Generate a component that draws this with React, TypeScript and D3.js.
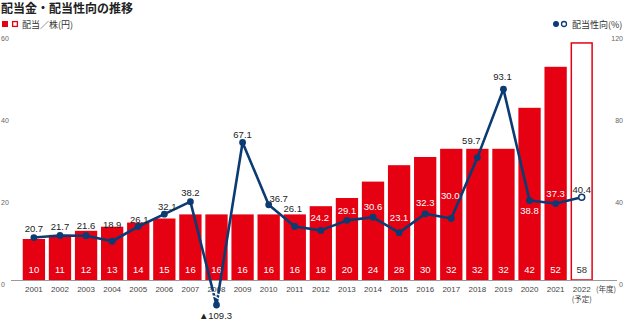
import React from "react";
import * as d3 from "d3";

const years = ["2001","2002","2003","2004","2005","2006","2007","2008","2009","2010","2011","2012","2013","2014","2015","2016","2017","2018","2019","2020","2021","2022"];
const dividends = [10,11,12,13,14,15,16,16,16,16,16,18,20,24,28,30,32,32,32,42,52,58];
const payout = [20.7,21.7,21.6,18.9,26.1,32.1,38.2,-109.3,67.1,36.7,26.1,24.2,29.1,30.6,23.1,32.3,30.0,59.7,93.1,38.8,37.3,40.4];
const leftTicks = [0,20,40,60];
const rightTicks = [0,40,80,120];
const forecastYear = "2022";
const brokenYear = "2008";

// label nudges (dx, dy of label centre relative to point)
const labelNudge: Record<string,[number,number]> = {
  "2003":[0,-10],"2004":[0,-17],"2005":[1,-7],"2006":[3,-8],"2009":[0,-8],"2010":[10,-6],
  "2011":[-2,-18],"2012":[-1,-13],"2013":[0,-10],"2014":[0,-11],"2015":[0,-15],"2016":[0,-11],
  "2017":[-1,-23],"2018":[-6,-17],"2019":[-1,-13],"2020":[0,10],"2021":[0,-10],"2022":[0,-8]
};

const RED = "#e50012";
const NAVY = "#0b3b73";
const FONT = "'Liberation Sans', Arial, 'Noto Sans CJK JP', sans-serif";
const NARROW = "'Liberation Sans Narrow', 'Arial Narrow', 'Liberation Sans', sans-serif";
const JP = "'Noto Sans CJK JP', sans-serif";

export default function App() {
  const W = 624, H = 321;
  const x = d3.scaleBand<string>().domain(years).range([20.85, 594.75]).paddingInner(0.145).paddingOuter(0.0725);
  const yL = d3.scaleLinear().domain([0, 60]).range([280, 34]);
  const yR = d3.scaleLinear().domain([0, 120]).range([280, 34]);
  const bw = x.bandwidth();
  const cx = (yr: string) => (x(yr) as number) + bw / 2;
  const breakY = 305;
  const py = (v: number, yr: string) => (yr === brokenYear ? breakY : yR(v));
  const linePts: [number, number][] = years.map((yr, i) => [cx(yr), py(payout[i], yr)]);
  const line = d3.line()(linePts) || "";
  const x08 = cx(brokenYear);
  const wave = (y: number) => `M${x08 - 6},${y} q3,-2.5 6,0 t6,0`;

  return (
    <svg width={W} height={H} style={{ position: "absolute", left: 0, top: 0, background: "#fff" }}>
      {/* title */}
      <text x={1} y={13} fontFamily={JP} fontWeight={700} fontSize={12} fill="#222">配当金・配当性向の推移</text>
      {/* left legend */}
      <rect x={2} y={21} width={6} height={6} fill={RED} />
      <rect x={12.6} y={21.6} width={4.8} height={4.8} fill="#fff" stroke={RED} strokeWidth={1.3} />
      <text x={22} y={27.5} fontFamily={JP} fontSize={9} fill="#333">配当／株(円)</text>
      {/* right legend */}
      <circle cx={556} cy={24} r={3} fill={NAVY} />
      <circle cx={564} cy={24} r={2.5} fill="#fff" stroke={NAVY} strokeWidth={1.3} />
      <text x={572} y={27.5} fontFamily={JP} fontSize={9} fill="#333">配当性向(%)</text>

      {/* left ticks */}
      {leftTicks.map(t => (
        <text key={"l" + t} x={1} y={yL(t) + 7} fontFamily={FONT} fontSize={7} fill="#666">{t}</text>
      ))}
      {rightTicks.map(t => (
        <text key={"r" + t} x={623} y={yR(t) + 7} textAnchor="end" fontFamily={FONT} fontSize={7} fill="#666">{t}</text>
      ))}

      {/* bars */}
      {years.map((yr, i) => yr === forecastYear ? (
        <rect key={yr} x={(x(yr) as number) + 0.75} y={yL(dividends[i]) + 0.75} width={bw - 1.5} height={280 - yL(dividends[i]) - 0.75} fill="#fff" stroke={RED} strokeWidth={1.5} />
      ) : (
        <rect key={yr} x={x(yr)} y={yL(dividends[i])} width={bw} height={280 - yL(dividends[i])} fill={RED} />
      ))}
      {years.map((yr, i) => (
        <text key={"bl" + yr} x={cx(yr)} y={272.5} textAnchor="middle" fontFamily={FONT} fontSize={9.5} fill={yr === forecastYear ? "#333" : "#fff"}>{dividends[i]}</text>
      ))}

      {/* baseline */}
      <line x1={11} x2={617} y1={280.5} y2={280.5} stroke="#999" strokeWidth={1} />

      {/* year labels */}
      {years.map(yr => (
        <text key={"y" + yr} x={cx(yr)} y={292} textAnchor="middle" fontFamily={NARROW} fontSize={8} fill="#444">{yr}</text>
      ))}
      <text x={cx(forecastYear)} y={301.5} textAnchor="middle" fontFamily={JP} fontSize={7.5} fill="#444">(予定)</text>
      <text x={596} y={292} fontFamily={JP} fontSize={7.5} fill="#444">(年度)</text>

      {/* payout line */}
      <path d={line} fill="none" stroke={NAVY} strokeWidth={2.6} strokeLinejoin="round" />
      <path d={wave(293.5)} fill="none" stroke="#fff" strokeWidth={1.3} />
      <path d={wave(297.5)} fill="none" stroke="#fff" strokeWidth={1.3} />
      {years.map((yr, i) => yr === forecastYear ? (
        <circle key={"p" + yr} cx={cx(yr)} cy={py(payout[i], yr)} r={3} fill="#fff" stroke={NAVY} strokeWidth={1.5} />
      ) : (
        <circle key={"p" + yr} cx={cx(yr)} cy={py(payout[i], yr)} r={3.4} fill={NAVY} />
      ))}

      {/* payout labels */}
      {years.map((yr, i) => {
        if (yr === brokenYear) {
          return <text key={"pl" + yr} x={x08 - 1} y={318.5} textAnchor="middle" fontFamily={FONT} fontSize={9.5} fill="#222">{"▲" + Math.abs(payout[i]).toFixed(1)}</text>;
        }
        const [dx, dy] = labelNudge[yr] || [0, -9];
        const lx = cx(yr) + dx;
        const ly = py(payout[i], yr) + dy;
        const inside = yr !== forecastYear && ly > yL(dividends[i]) + 2;
        return <text key={"pl" + yr} x={lx} y={ly + 3.4} textAnchor="middle" fontFamily={FONT} fontSize={9.5} fill={inside ? "#fff" : "#222"}>{payout[i].toFixed(1)}</text>;
      })}
    </svg>
  );
}
